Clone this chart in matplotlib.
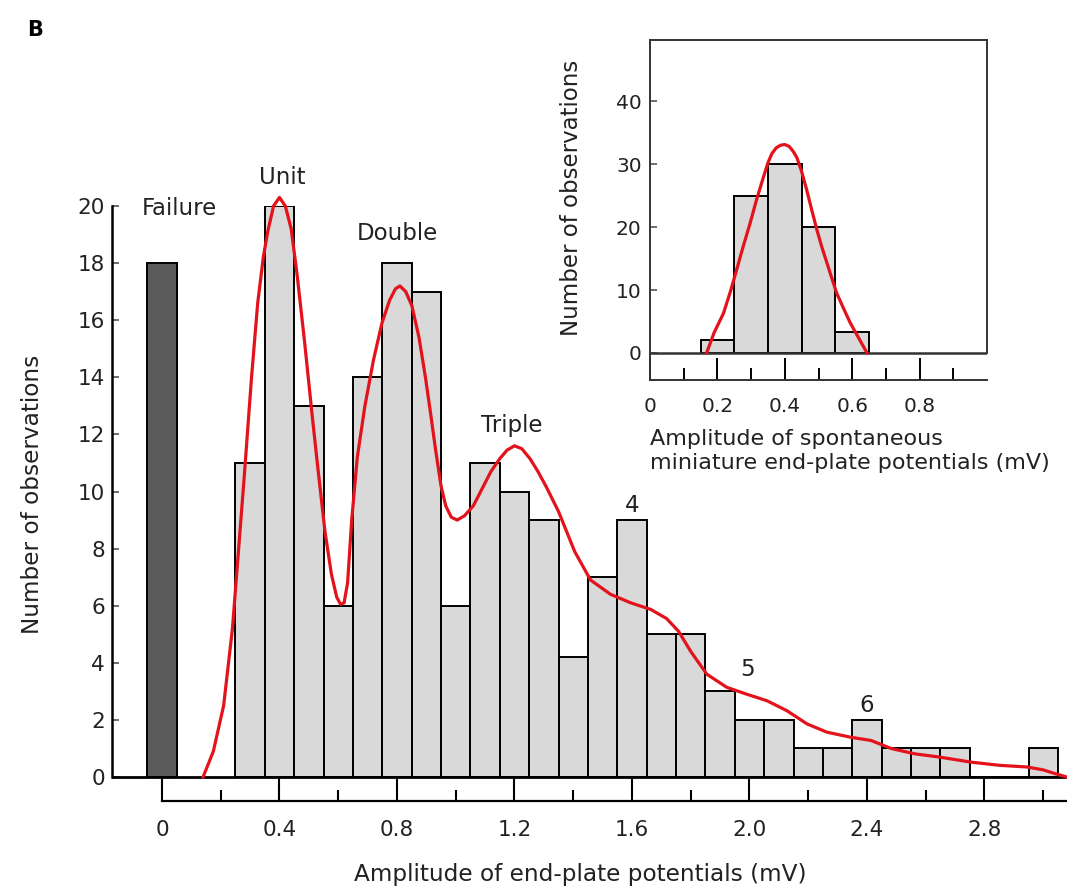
import matplotlib
matplotlib.use("Agg")
import matplotlib.pyplot as plt
from matplotlib.ticker import FixedLocator

plt.rcParams['font.family'] = ['DejaVu Sans']

# ---------------- data (main histogram) ----------------
failure_x = [0.0]
failure_count = [18]

bin_centers = [0.3, 0.4, 0.5, 0.6, 0.7, 0.8, 0.9, 1.0, 1.1, 1.2, 1.3, 1.4, 1.5,
               1.6, 1.7, 1.8, 1.9, 2.0, 2.1, 2.2, 2.3, 2.4, 2.5, 2.6, 2.7, 2.8,
               2.9, 3.0]
counts = [11, 20, 13, 6, 14, 18, 17, 6, 11, 10, 9, 4.2, 7,
          9, 5, 5, 3, 2, 2, 1, 1, 2, 1, 1, 1, 0,
          0, 1]

# fitted curve
curve_x = [0.14, 0.175, 0.21, 0.24, 0.28, 0.305, 0.326, 0.345, 0.36, 0.38, 0.40,
           0.42, 0.44, 0.46, 0.486, 0.51, 0.531, 0.555, 0.577, 0.595, 0.608, 0.62,
           0.632, 0.646, 0.665, 0.691, 0.72, 0.749, 0.775, 0.795, 0.81, 0.83,
           0.851, 0.875, 0.897, 0.915, 0.931, 0.95, 0.966, 0.985, 1.005, 1.03,
           1.06, 1.09, 1.12, 1.15, 1.175, 1.2, 1.225, 1.253, 1.28, 1.309, 1.35,
           1.405, 1.459, 1.527, 1.596, 1.664, 1.718, 1.759, 1.80, 1.855, 1.923,
           1.991, 2.06, 2.128, 2.196, 2.264, 2.346, 2.414, 2.482, 2.564, 2.646,
           2.755, 2.851, 2.946, 3.0, 3.04, 3.08]
curve_y = [0.0, 0.9, 2.5, 5.2, 10.5, 14.0, 16.6, 18.2, 19.1, 20.0, 20.3,
           20.0, 19.2, 17.6, 15.2, 12.8, 10.8, 8.6, 7.1, 6.3, 6.05, 6.1,
           6.8, 9.0, 11.2, 13.0, 14.6, 15.9, 16.7, 17.1, 17.2, 17.0,
           16.5, 15.4, 14.0, 12.7, 11.5, 10.2, 9.5, 9.1, 9.0, 9.15,
           9.5, 10.1, 10.7, 11.15, 11.45, 11.6, 11.5, 11.15, 10.7, 10.15, 9.3,
           7.9, 6.9, 6.4, 6.1, 5.87, 5.55, 5.1, 4.4, 3.6, 3.14,
           2.9, 2.67, 2.32, 1.86, 1.57, 1.39, 1.28, 1.0, 0.81, 0.70,
           0.52, 0.41, 0.35, 0.25, 0.12, 0.0]

x_major = [0, 0.4, 0.8, 1.2, 1.6, 2.0, 2.4, 2.8]
x_major_labels = ["0", "0.4", "0.8", "1.2", "1.6", "2.0", "2.4", "2.8"]
x_minor = [0.2, 0.6, 1.0, 1.4, 1.8, 2.2, 2.6, 3.0]
y_major = [0, 2, 4, 6, 8, 10, 12, 14, 16, 18, 20]

peak_labels = ["Failure", "Unit", "Double", "Triple", "4", "5", "6"]
peak_label_x = [0.058, 0.41, 0.80, 1.19, 1.60, 1.995, 2.40]
peak_label_y = [19.9, 21.0, 19.05, 12.3, 9.5, 3.75, 2.5]

# ---------------- data (inset) ----------------
in_centers = [0.2, 0.3, 0.4, 0.5, 0.6]
in_counts = [2, 25, 30, 20, 3.4]
in_curve_x = [0.168, 0.19, 0.218, 0.24, 0.257, 0.277, 0.297, 0.317, 0.337, 0.35,
              0.362, 0.375, 0.388, 0.40, 0.413, 0.425, 0.436, 0.45, 0.465, 0.48,
              0.495, 0.51, 0.525, 0.54, 0.554, 0.575, 0.594, 0.62, 0.644]
in_curve_y = [0.0, 3.2, 6.3, 10.0, 13.2, 17.0, 20.6, 24.5, 28.0, 30.2,
              31.7, 32.6, 33.0, 33.1, 32.8, 32.0, 31.0, 28.8, 25.9, 22.7,
              19.6, 16.8, 14.3, 11.8, 9.5, 7.0, 4.8, 2.3, 0.0]
in_x_major = [0, 0.2, 0.4, 0.6, 0.8]
in_x_major_labels = ["0", "0.2", "0.4", "0.6", "0.8"]
in_x_minor = [0.1, 0.3, 0.5, 0.7, 0.9]
in_y_major = [0, 10, 20, 30, 40]

# ---------------- styling ----------------
W, H = 1067, 888
TXT = '#222222'
BAR = '#d9d9da'
FAIL = '#5a5a5a'
RED = '#e3121b'

fig = plt.figure(figsize=(W / 100, H / 100), dpi=100)
fig.patch.set_facecolor('white')

def fx(px):
    return px / W

def fy(py):
    return 1 - py / H

# main axes: left spine at x=112px, ruler at y=801px, top (20) at 206px
ax = fig.add_axes([fx(112), fy(801), (1067 - 112) / W, (801 - 206) / H])
ax.set_xlim(-0.170, 3.081)
ax.set_ylim(-0.84, 20.0)
ax.patch.set_alpha(0)

ax.bar(failure_x, failure_count, width=0.1, color=FAIL, edgecolor='black',
       linewidth=1.4, zorder=2)
ax.bar(bin_centers, counts, width=0.1, color=BAR, edgecolor='black',
       linewidth=1.4, zorder=2)
ax.plot(curve_x, curve_y, color=RED, lw=2.3, solid_joinstyle='round',
        zorder=4, clip_on=False)
ax.axhline(0, color='black', lw=2.0, zorder=3)

for s in ['top', 'right']:
    ax.spines[s].set_visible(False)
ax.spines['left'].set_bounds(0, 20)
ax.spines['left'].set_linewidth(1.8)
ax.spines['bottom'].set_bounds(0, 3.081)
ax.spines['bottom'].set_linewidth(1.6)

ax.xaxis.set_major_locator(FixedLocator(x_major))
ax.set_xticklabels(x_major_labels)
ax.xaxis.set_minor_locator(FixedLocator(x_minor))
ax.tick_params(axis='x', which='major', direction='in', length=16.5, width=1.5,
               pad=14, labelsize=15.5, labelcolor=TXT)
ax.tick_params(axis='x', which='minor', direction='in', length=8, width=1.5)
ax.set_yticks(y_major)
ax.tick_params(axis='y', which='major', direction='in', length=5, width=1.2,
               pad=5, labelsize=15.5, labelcolor=TXT, color='#555555')

ax.set_xlabel("Amplitude of end-plate potentials (mV)", fontsize=16.7, color=TXT)
ax.xaxis.set_label_coords((580 - 112) / 955, -(875 - 801) / 595)
ax.xaxis.label.set_va('center')
ax.set_ylabel("Number of observations", fontsize=16.7, color=TXT)
ax.yaxis.set_label_coords((33 - 112) / 955, (801 - 494) / 595)
ax.yaxis.label.set_va('center')
ax.yaxis.label.set_ha('center')

for lab, lx, ly in zip(peak_labels, peak_label_x, peak_label_y):
    ax.text(lx, ly, lab, ha='center', va='center', fontsize=16.5, color=TXT,
            zorder=5, clip_on=False)

fig.text(fx(35), fy(30), "B", ha='center', va='center', fontsize=15,
         fontweight='bold', color='black')

# ---------------- inset ----------------
ai = fig.add_axes([fx(650), fy(380), 337 / W, 340 / H])
ai.set_xlim(0, 1.0)
ai.set_ylim(-4.29, 49.7)
ai.patch.set_facecolor('white')

ai.bar(in_centers, in_counts, width=0.1, color=BAR, edgecolor='black',
       linewidth=1.4, zorder=2)
ai.plot(in_curve_x, in_curve_y, color=RED, lw=2.3, solid_joinstyle='round',
        zorder=4)
ai.axhline(0, color='#333333', lw=1.8, zorder=3)

for s in ['top', 'right', 'left', 'bottom']:
    ai.spines[s].set_linewidth(1.4)
    ai.spines[s].set_color('#333333')
ai.spines['right'].set_bounds(0, 49.7)

ai.xaxis.set_major_locator(FixedLocator(in_x_major))
ai.set_xticklabels(in_x_major_labels)
ai.xaxis.set_minor_locator(FixedLocator(in_x_minor))
ai.tick_params(axis='x', which='major', direction='in', length=16, width=1.4,
               pad=12, labelsize=14.5, labelcolor=TXT)
ai.tick_params(axis='x', which='minor', direction='in', length=8.5, width=1.4)
ai.set_yticks(in_y_major)
ai.tick_params(axis='y', which='major', direction='in', length=5, width=1.2,
               pad=6, labelsize=14.5, labelcolor=TXT, color='#555555')

ai.set_ylabel("Number of observations", fontsize=16.5, color=TXT)
ai.yaxis.set_label_coords((572 - 650) / 337, (380 - 198) / 340)
ai.yaxis.label.set_va('center')
ai.yaxis.label.set_ha('center')

ai.text(0.0, -(451 - 380) / 340,
        "Amplitude of spontaneous\nminiature end-plate potentials (mV)",
        transform=ai.transAxes, ha='left', va='center', multialignment='left',
        fontsize=16, color=TXT, linespacing=1.25, clip_on=False)

fig.savefig("out.png", dpi=100, facecolor='white')
